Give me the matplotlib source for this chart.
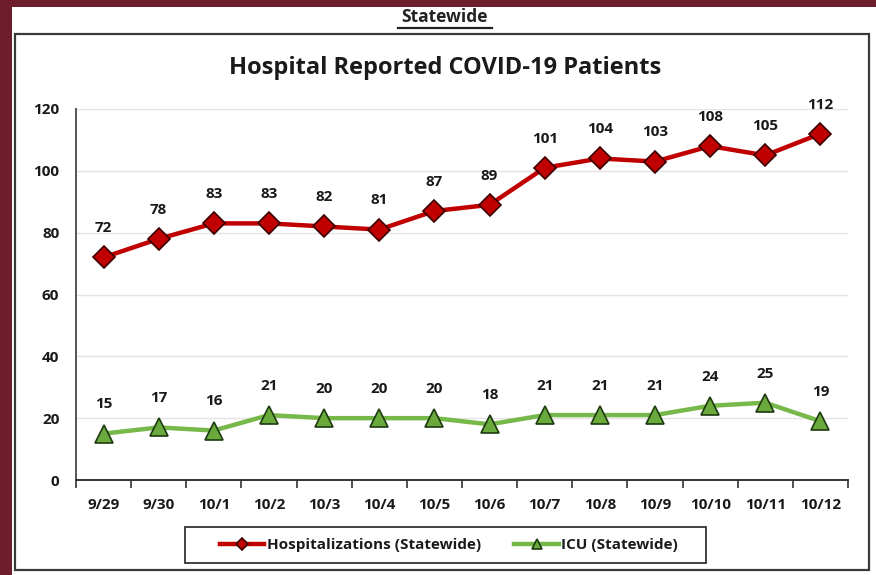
import matplotlib
matplotlib.use("Agg")
import matplotlib.pyplot as plt
from matplotlib.patches import Rectangle
from matplotlib.lines import Line2D

dates = ["9/29", "9/30", "10/1", "10/2", "10/3", "10/4", "10/5", "10/6",
         "10/7", "10/8", "10/9", "10/10", "10/11", "10/12"]
hosp = [72, 78, 83, 83, 82, 81, 87, 89, 101, 104, 103, 108, 105, 112]
icu = [15, 17, 16, 21, 20, 20, 20, 18, 21, 21, 21, 24, 25, 19]
yticks = [0, 20, 40, 60, 80, 100, 120]

plt.rcParams['font.family'] = ['Open Sans', 'DejaVu Sans']
plt.rcParams['font.weight'] = 'bold'

W, H = 876, 575
fig = plt.figure(figsize=(W / 100, H / 100), dpi=100)
fig.patch.set_facecolor('#6d1d2c')

def fx(px):
    return px / W

def fy(py):
    return 1 - py / H

# white panel
fig.patches.append(Rectangle((fx(12), 0), 1 - fx(12), fy(7), transform=fig.transFigure,
                             facecolor='white', edgecolor='none', zorder=-2))
# chart frame
fig.patches.append(Rectangle((fx(15), fy(570)), fx(869) - fx(15), fy(34) - fy(570),
                             transform=fig.transFigure, facecolor='none',
                             edgecolor='#3a3a3a', linewidth=1.6, zorder=-1))
# legend frame
fig.patches.append(Rectangle((fx(185), fy(563)), fx(706) - fx(185), fy(527) - fy(563),
                             transform=fig.transFigure, facecolor='white',
                             edgecolor='#222222', linewidth=1.2, zorder=-1))

fig.text(fx(445), fy(17), "Statewide", ha='center', va='center', fontsize=12.5,
         fontweight='bold', color='#222222')
fig.lines.append(Line2D([fx(398), fx(492)], [fy(27.5), fy(27.5)], transform=fig.transFigure,
                        color='#222222', linewidth=1.6))
fig.text(fx(445), fy(68), "Hospital Reported COVID-19 Patients", ha='center', va='center',
         fontsize=17, fontweight='bold', color='#1a1a1a')

ax = fig.add_axes([fx(76), fy(480), fx(848) - fx(76), fy(109) - fy(480)])
ax.set_zorder(2)
ax.set_facecolor('none')
x = list(range(len(dates)))
ax.plot(x, hosp, color='#c00000', linewidth=3.2, marker='D', markersize=11,
        markerfacecolor='#c00000', markeredgecolor='#3a0000', markeredgewidth=1.2,
        label='Hospitalizations (Statewide)', zorder=4, clip_on=False)
ax.plot(x, icu, color='#77b84a', linewidth=3.2, marker='^', markersize=13,
        markerfacecolor='#6aaa3c', markeredgecolor='#1e3a10', markeredgewidth=1.2,
        label='ICU (Statewide)', zorder=4, clip_on=False)

for xi, v in zip(x, hosp):
    ax.annotate(str(v), (xi, v), xytext=(0, 21), textcoords='offset points',
                ha='center', va='center', fontsize=11, fontweight='bold',
                color='#1a1a1a', annotation_clip=False)
for xi, v in zip(x, icu):
    ax.annotate(str(v), (xi, v), xytext=(0, 21), textcoords='offset points',
                ha='center', va='center', fontsize=11, fontweight='bold',
                color='#1a1a1a', annotation_clip=False)

ax.set_xlim(-0.5, len(dates) - 0.5)
ax.set_ylim(0, 120)
ax.set_yticks(yticks)
ax.set_yticklabels([str(t) for t in yticks], fontsize=11, fontweight='bold', color='#1a1a1a')
ax.set_xticks(x)
ax.set_xticklabels(dates, fontsize=11, fontweight='bold', color='#1a1a1a')
ax.set_xticks([i - 0.5 for i in range(len(dates) + 1)], minor=True)
ax.tick_params(axis='x', which='major', length=0, pad=13)
ax.tick_params(axis='x', which='minor', length=6, width=1.2, color='#333333', direction='out')
ax.tick_params(axis='y', length=0, pad=12)
ax.grid(axis='y', color='#e4e4e4', linewidth=1.0, zorder=0)
ax.set_axisbelow(True)
for s in ['top', 'right']:
    ax.spines[s].set_visible(False)
ax.spines['left'].set_color('#555555')
ax.spines['left'].set_linewidth(1.4)
ax.spines['bottom'].set_color('#333333')
ax.spines['bottom'].set_linewidth(1.4)

leg = fig.legend(loc='center', bbox_to_anchor=(fx(449), fy(545)), ncol=2,
                 fontsize=11, frameon=False,
                 handlelength=2.9, columnspacing=2.2, borderpad=0.0, markerscale=0.55,
                 handletextpad=0.15)
for t in leg.get_texts():
    t.set_fontweight('bold')
    t.set_color('#1a1a1a')

fig.savefig('out.png', dpi=100, facecolor=fig.get_facecolor())
